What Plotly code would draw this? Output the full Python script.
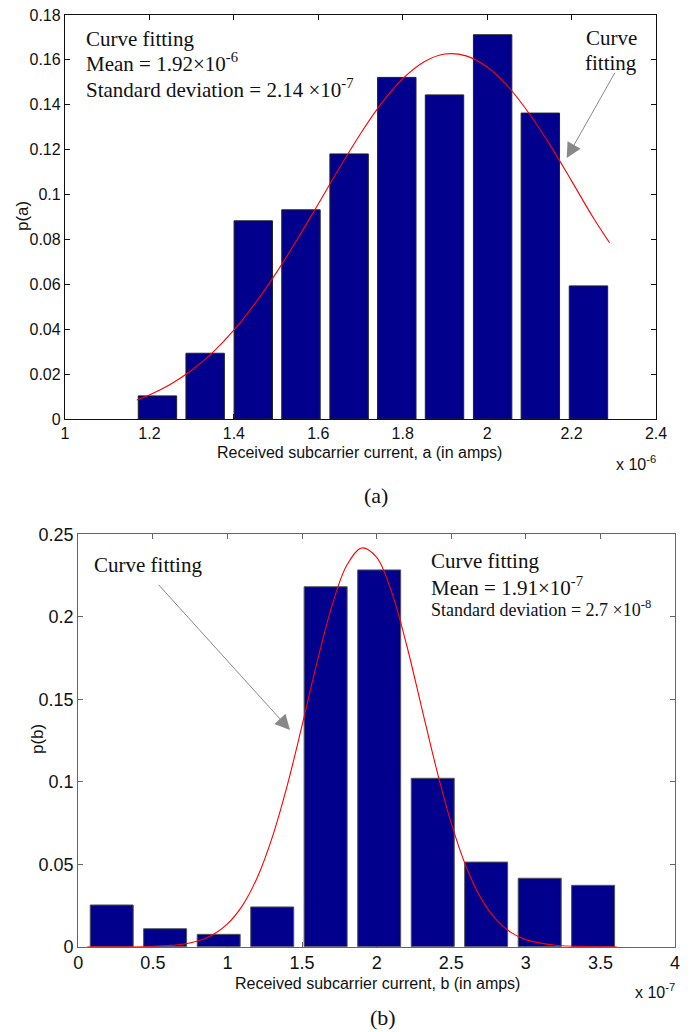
import plotly.graph_objects as go

# ---------------- Panel (a) data ----------------
a_centers = [1.219, 1.332, 1.446, 1.559, 1.673, 1.786, 1.899, 2.013, 2.126, 2.240]
a_probs = [0.0103, 0.0293, 0.0883, 0.0932, 0.1181, 0.1522, 0.1444, 0.1712, 0.1363, 0.0593]
a_fit_x = [1.17, 1.20, 1.25, 1.30, 1.35, 1.40, 1.45, 1.50, 1.55, 1.60, 1.65, 1.70,
           1.75, 1.80, 1.85, 1.90, 1.95, 2.00, 2.05, 2.10, 2.15, 2.20, 2.25, 2.29]
a_fit_y = [0.0085, 0.0107, 0.0155, 0.0217, 0.0297, 0.0396, 0.0514, 0.0650, 0.0800,
           0.0958, 0.1118, 0.1271, 0.1407, 0.1516, 0.1591, 0.1626, 0.1618, 0.1568,
           0.1480, 0.1360, 0.1218, 0.1061, 0.0901, 0.0785]
a_xticks = [1, 1.2, 1.4, 1.6, 1.8, 2, 2.2, 2.4]
a_xticklabels = ["1", "1.2", "1.4", "1.6", "1.8", "2", "2.2", "2.4"]
a_yticks = [0, 0.02, 0.04, 0.06, 0.08, 0.1, 0.12, 0.14, 0.16, 0.18]
a_yticklabels = ["0", "0.02", "0.04", "0.06", "0.08", "0.1", "0.12", "0.14", "0.16", "0.18"]

# ---------------- Panel (b) data ----------------
b_centers = [0.224, 0.582, 0.941, 1.300, 1.658, 2.017, 2.376, 2.734, 3.093, 3.451]
b_probs = [0.0253, 0.0109, 0.0075, 0.0241, 0.2182, 0.2284, 0.1021, 0.0513, 0.0415, 0.0372]
b_fit_x = [0.06, 0.3, 0.5, 0.6, 0.7, 0.8, 0.9, 1.0, 1.1, 1.2, 1.3, 1.4, 1.5, 1.6, 1.7,
           1.8, 1.9, 2.0, 2.1, 2.2, 2.3, 2.4, 2.5, 2.6, 2.7, 2.8, 2.9, 3.0, 3.2, 3.4, 3.61]
b_fit_y = [0.0, 0.0, 0.0003, 0.0007, 0.0015, 0.0034, 0.0071, 0.0138, 0.0249, 0.0420,
           0.0663, 0.0975, 0.1341, 0.1722, 0.2065, 0.2312, 0.2417, 0.2360, 0.2151,
           0.1832, 0.1456, 0.1081, 0.0749, 0.0485, 0.0293, 0.0166, 0.0087, 0.0043,
           0.0009, 0.0001, 0.0]
b_xticks = [0, 0.5, 1, 1.5, 2, 2.5, 3, 3.5, 4]
b_xticklabels = ["0", "0.5", "1", "1.5", "2", "2.5", "3", "3.5", "4"]
b_yticks = [0, 0.05, 0.1, 0.15, 0.2, 0.25]
b_yticklabels = ["0", "0.05", "0.1", "0.15", "0.2", "0.25"]

W, H = 695, 1032
OFF = 8  # default page margin of the HTML body
SANS = "Liberation Sans, Arial, sans-serif"
SERIF = "Liberation Serif, Times New Roman, serif"
BAR = "#00008C"
RED = "#FF0000"

fig = go.Figure()
fig.add_trace(go.Bar(x=a_centers, y=a_probs, marker=dict(color=BAR, line=dict(color="#222222", width=1)),
                     xaxis="x", yaxis="y", showlegend=False))
fig.add_trace(go.Scatter(x=a_fit_x, y=a_fit_y, mode="lines", line=dict(color=RED, width=1.1, shape="spline"),
                         xaxis="x", yaxis="y", showlegend=False))
fig.add_trace(go.Bar(x=b_centers, y=b_probs, marker=dict(color=BAR, line=dict(color="#555555", width=1)),
                     xaxis="x2", yaxis="y2", showlegend=False))
fig.add_trace(go.Scatter(x=b_fit_x, y=b_fit_y, mode="lines", line=dict(color=RED, width=1.1, shape="spline"),
                         xaxis="x2", yaxis="y2", showlegend=False))


def px(x):
    return (x - OFF) / W


def py(y):
    return 1 - (y - OFF) / H


def axis_common(color, tickfont_size):
    return dict(showline=True, linecolor=color, linewidth=1.3, mirror="ticks", ticks="inside",
                ticklen=5, tickwidth=1, tickcolor=color, showgrid=False, zeroline=False,
                automargin=False, layer="below traces", ticklabeloverflow="allow",
                tickfont=dict(family=SANS, size=tickfont_size, color="#111111"))


fig.update_layout(
    width=W, height=H, margin=dict(l=0, r=0, t=0, b=0, autoexpand=False),
    paper_bgcolor="white", plot_bgcolor="white", bargap=0.195,
    xaxis=dict(domain=[px(65), px(656)], range=[1, 2.4], anchor="y", tickvals=a_xticks,
               ticktext=a_xticklabels, **axis_common("#111111", 16)),
    yaxis=dict(domain=[py(419), py(15)], range=[0, 0.18], anchor="x", tickvals=a_yticks,
               ticktext=a_yticklabels, **axis_common("#111111", 16)),
    xaxis2=dict(domain=[px(78.3), px(675)], range=[0, 4], anchor="y2", tickvals=b_xticks,
                ticktext=b_xticklabels, **axis_common("#666666", 18)),
    yaxis2=dict(domain=[py(946.7), py(534.3)], range=[0, 0.25], anchor="x2", tickvals=b_yticks,
                ticktext=b_yticklabels, **axis_common("#666666", 18)),
)

ann = []


def txt(x, y, text, size, family=SERIF, xanchor="left", angle=0):
    ann.append(dict(x=px(x), y=py(y), xref="paper", yref="paper", text=text, showarrow=False,
                    xanchor=xanchor, yanchor="middle", textangle=angle,
                    font=dict(family=family, size=size, color="#111111")))


# Panel (a) texts
txt(84, 39, "Curve fitting", 21)
txt(84, 63, "Mean = 1.92×10<sup>-6</sup>", 21)
txt(84, 88, "Standard deviation = 2.14 ×10<sup>-7</sup>", 21)
txt(611, 38, "Curve", 21, xanchor="center")
txt(611, 63, "fitting", 21, xanchor="center")
txt(359, 452, "Received subcarrier current, a (in amps)", 16, family=SANS, xanchor="center")
txt(636, 463, "x 10<sup>-6</sup>", 16, family=SANS, xanchor="center")
txt(22, 216, "p(a)", 17, family=SANS, xanchor="center", angle=-90)
txt(376, 496, "(a)", 22, xanchor="center")

# Panel (b) texts
txt(92, 565, "Curve fitting", 21)
txt(429, 561, "Curve fitting", 21)
txt(429, 586, "Mean = 1.91×10<sup>-7</sup>", 21)
txt(429, 608, "Standard deviation = 2.7 ×10<sup>-8</sup>", 18)
txt(377, 983, "Received subcarrier current, b (in amps)", 16, family=SANS, xanchor="center")
txt(655, 991, "x 10<sup>-7</sup>", 16, family=SANS, xanchor="center")
txt(37, 739, "p(b)", 17, family=SANS, xanchor="center", angle=-90)
txt(383, 1017, "(b)", 22, xanchor="center")

# Arrows
ann.append(dict(x=px(566.7), y=py(158), xref="paper", yref="paper", text="", showarrow=True,
                ax=49, ay=-86.7, arrowhead=2, arrowsize=3, arrowwidth=1, arrowcolor="#888888"))
ann.append(dict(x=px(290), y=py(730), xref="paper", yref="paper", text="", showarrow=True,
                ax=-132.7, ay=-146.7, arrowhead=2, arrowsize=3, arrowwidth=1, arrowcolor="#888888"))

fig.update_layout(annotations=ann)
fig.write_html("out.html")
